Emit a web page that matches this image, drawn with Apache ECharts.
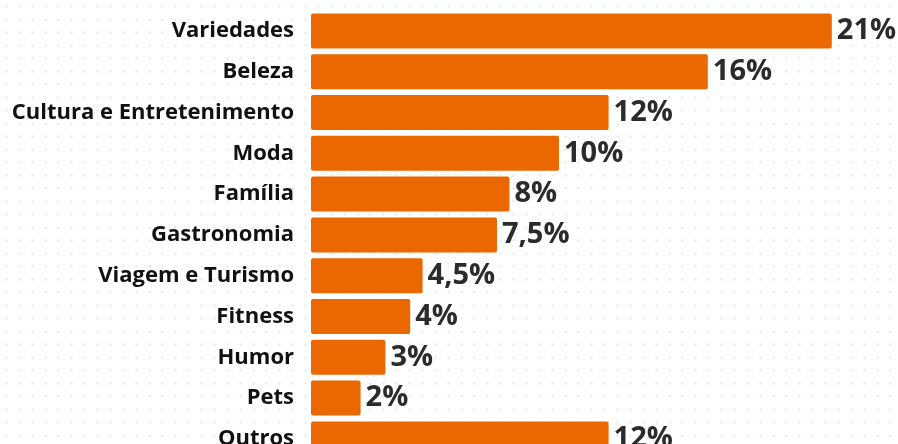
<!DOCTYPE html>
<html>
<head>
<meta charset="utf-8">
<script src="https://cdn.jsdelivr.net/npm/echarts@6/dist/echarts.min.js"></script>
<style>
  html, body { margin: 0; padding: 0; background: #ffffff; }
  #chart {
    width: 898px; height: 444px;
    background-color: #ffffff;
    background-image: radial-gradient(circle, #ececec 1px, transparent 1.4px);
    background-size: 13px 13px;
  }
</style>
</head>
<body>
<div id="chart"></div>
<script>
// Share of content categories (%)
const categories = [
  'Variedades', 'Beleza', 'Cultura e Entretenimento', 'Moda', 'Família',
  'Gastronomia', 'Viagem e Turismo', 'Fitness', 'Humor', 'Pets', 'Outros'
];
const shares = [21, 16, 12, 10, 8, 7.5, 4.5, 4, 3, 2, 12];

const FONT = '"Open Sans", "DejaVu Sans", sans-serif';

const chart = echarts.init(document.getElementById('chart'), null, { renderer: 'canvas' });

chart.setOption({
  backgroundColor: 'transparent',
  animation: false,
  grid: {
    left: 311, top: 10.5, width: 595.2, height: 448.8,
    containLabel: false, outerBoundsMode: 'none'
  },
  xAxis: {
    type: 'value', min: 0, max: 24,
    show: false
  },
  yAxis: {
    type: 'category',
    data: categories,
    inverse: true,
    axisLine: { show: false },
    axisTick: { show: false },
    axisLabel: {
      margin: 17,
      color: '#111111',
      fontFamily: FONT,
      fontWeight: 'bold',
      fontSize: 22
    }
  },
  series: [{
    type: 'bar',
    data: shares,
    barWidth: 35,
    itemStyle: { color: '#EB6700', borderRadius: 2 },
    label: {
      show: true,
      position: 'right',
      distance: 5,
      color: '#2b2b2b',
      fontFamily: FONT,
      fontWeight: 'bold',
      fontSize: 29,
      formatter: p => String(p.value).replace('.', ',') + '%'
    }
  }]
});
</script>
</body>
</html>
